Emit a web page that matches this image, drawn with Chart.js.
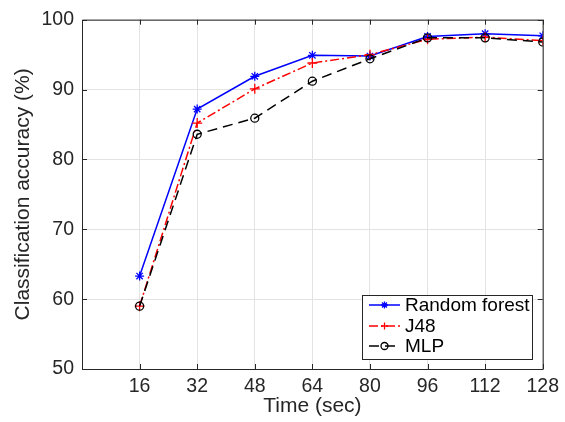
<!DOCTYPE html>
<html>
<head>
<meta charset="utf-8">
<script src="https://cdn.jsdelivr.net/npm/chart.js@4/dist/chart.umd.min.js"></script>
<style>
  html, body { margin: 0; padding: 0; background: #fff; }
  #wrap { width: 565px; height: 422px; }
</style>
</head>
<body>
<div id="wrap"><canvas id="accuracyChart" width="565" height="422"></canvas></div>
<script>
// Accuracy vs. window length
const times = [16, 32, 48, 64, 80, 96, 112, 128];
const randomForest = [63.3, 87.2, 91.9, 94.9, 94.8, 97.6, 98.0, 97.7];
const j48 = [59.0, 85.2, 90.1, 93.8, 95.0, 97.2, 97.5, 97.0];
const mlp = [59.0, 83.6, 85.9, 91.2, 94.4, 97.4, 97.4, 96.8];
const xTicks = [16, 32, 48, 64, 80, 96, 112, 128];
const yTicks = [50, 60, 70, 80, 90, 100];

const axisColor = "#262626";
const gridColor = "#e3e3e3";
const fontFamily = '"Liberation Sans", Arial, Helvetica, sans-serif';

Chart.defaults.font.family = fontFamily;
Chart.defaults.color = axisColor;

const toPoints = vals => vals.map((v, i) => ({ x: times[i], y: v }));

// box round the axes with inward ticks, like MATLAB "box on"
const boxPlugin = {
    id: "boxPlugin",
    afterDatasetsDraw(chart) {
        const { ctx, chartArea: a, scales } = chart;
        ctx.save();
        ctx.strokeStyle = axisColor;
        ctx.lineWidth = 1;
        ctx.setLineDash([]);
        ctx.beginPath();
        ctx.rect(a.left + 0.5, a.top + 0.5, a.right - a.left, a.bottom - a.top);
        ctx.stroke();
        const tl = 5;
        ctx.beginPath();
        xTicks.forEach(v => {
            const px = Math.round(scales.x.getPixelForValue(v)) + 0.5;
            ctx.moveTo(px, a.bottom); ctx.lineTo(px, a.bottom - tl);
            ctx.moveTo(px, a.top); ctx.lineTo(px, a.top + tl);
        });
        yTicks.forEach(v => {
            const py = Math.round(scales.y.getPixelForValue(v)) + 0.5;
            ctx.moveTo(a.left, py); ctx.lineTo(a.left + tl, py);
            ctx.moveTo(a.right, py); ctx.lineTo(a.right - tl, py);
        });
        ctx.stroke();
        ctx.restore();
    }
};

function drawMarker(ctx, style, x, y, r) {
    ctx.beginPath();
    if (style === "circle") {
        ctx.arc(x, y, r, 0, Math.PI * 2);
    } else if (style === "cross") {
        ctx.moveTo(x - r, y); ctx.lineTo(x + r, y);
        ctx.moveTo(x, y - r); ctx.lineTo(x, y + r);
    } else {
        for (let k = 0; k < 4; k++) {
            const ang = k * Math.PI / 4;
            ctx.moveTo(x - r * Math.cos(ang), y - r * Math.sin(ang));
            ctx.lineTo(x + r * Math.cos(ang), y + r * Math.sin(ang));
        }
    }
    ctx.stroke();
}

// legend inside the plot, bottom right
const insideLegend = {
    id: "insideLegend",
    afterDraw(chart) {
        const { ctx } = chart;
        const bx = 362.5, by = 295.5, bw = 170, bh = 64;
        ctx.save();
        ctx.fillStyle = "#fff";
        ctx.fillRect(bx, by, bw, bh);
        ctx.strokeStyle = axisColor;
        ctx.lineWidth = 1;
        ctx.strokeRect(bx, by, bw, bh);
        const rows = [305, 326, 346];
        chart.data.datasets.forEach((ds, i) => {
            const y = rows[i];
            ctx.strokeStyle = ds.borderColor;
            ctx.lineWidth = 1.5;
            ctx.setLineDash(ds.borderDash || []);
            ctx.beginPath();
            ctx.moveTo(369, y); ctx.lineTo(400, y);
            ctx.stroke();
            ctx.setLineDash([]);
            ctx.lineWidth = 1.3;
            drawMarker(ctx, ds.pointStyle, 384.5, y, 3.5);
            ctx.fillStyle = "#000";
            ctx.font = "19px " + fontFamily;
            ctx.textBaseline = "middle";
            ctx.textAlign = "left";
            ctx.fillText(ds.label, 405, y + 1);
        });
        ctx.restore();
    }
};

new Chart(document.getElementById("accuracyChart"), {
    type: "line",
    data: {
        datasets: [{
            label: "Random forest",
            data: toPoints(randomForest),
            borderColor: "#0000ff",
            backgroundColor: "#0000ff",
            borderWidth: 1.5,
            pointStyle: "star",
            pointRadius: 4.5,
            pointBorderWidth: 1.3,
            order: 3
        }, {
            label: "J48",
            data: toPoints(j48),
            borderColor: "#ff0000",
            backgroundColor: "#ff0000",
            borderWidth: 1.5,
            borderDash: [9, 3, 2, 3],
            pointStyle: "cross",
            pointRadius: 5,
            pointBorderWidth: 1.3,
            order: 2
        }, {
            label: "MLP",
            data: toPoints(mlp),
            borderColor: "#000000",
            backgroundColor: "rgba(0,0,0,0)",
            borderWidth: 1.5,
            borderDash: [10, 6],
            pointStyle: "circle",
            pointRadius: 4,
            pointBorderWidth: 1.3,
            order: 1
        }]
    },
    options: {
        responsive: false,
        animation: false,
        devicePixelRatio: 1,
        layout: { padding: { top: 18, right: 20, left: 0, bottom: 0 } },
        plugins: {
            legend: { display: false },
            tooltip: { enabled: false }
        },
        elements: { line: { tension: 0 } },
        scales: {
            x: {
                type: "linear",
                min: 0,
                max: 128,
                afterBuildTicks: scale => { scale.ticks = xTicks.map(v => ({ value: v })); },
                afterFit: scale => { scale.height = 53; },
                grid: { color: gridColor, drawTicks: false },
                border: { display: false },
                ticks: {
                    padding: 6,
                    maxRotation: 0,
                    font: { size: 19.5 },
                    color: axisColor
                },
                title: {
                    display: true,
                    text: "Time (sec)",
                    font: { size: 21 },
                    color: axisColor,
                    padding: { top: 0, bottom: 3 }
                }
            },
            y: {
                min: 50,
                max: 100,
                afterBuildTicks: scale => { scale.ticks = yTicks.map(v => ({ value: v })); },
                afterFit: scale => { scale.width = 82; },
                grid: { color: gridColor, drawTicks: false },
                border: { display: false },
                ticks: {
                    padding: 8,
                    font: { size: 19.5 },
                    color: axisColor
                },
                title: {
                    display: true,
                    text: "Classification accuracy (%)",
                    font: { size: 21 },
                    color: axisColor,
                    padding: { top: 11, bottom: 0 }
                }
            }
        }
    },
    plugins: [boxPlugin, insideLegend]
});
</script>
</body>
</html>
